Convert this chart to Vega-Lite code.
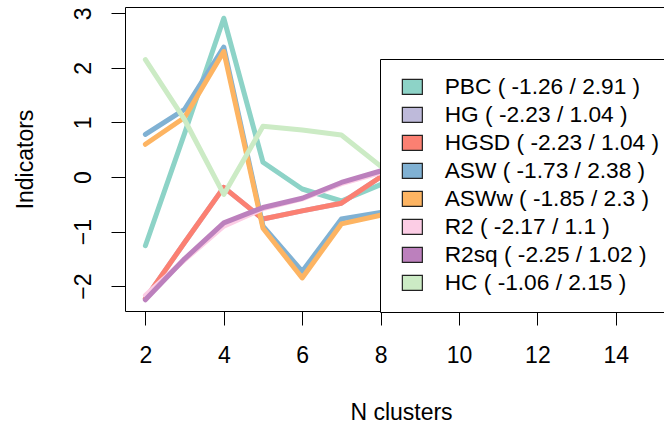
{
  "$schema": "https://vega.github.io/schema/vega-lite/v6.json",
  "autosize": {"type": "none"},
  "padding": {"left": 125, "top": 7, "right": 0, "bottom": 113},
  "width": 539,
  "height": 304,
  "background": "white",
  "config": {
    "font": "Liberation Sans",
    "view": {"stroke": "black", "strokeWidth": 1},
    "axis": {"grid": false, "domain": false, "tickColor": "black", "tickWidth": 1, "tickSize": 14, "labelFontSize": 23, "labelColor": "black", "titleFontSize": 23, "titleFontWeight": "normal", "titleColor": "black", "labelFont": "Liberation Sans", "titleFont": "Liberation Sans"},
    "legend": {"orient": "none", "legendX": 255, "legendY": 52, "padding": 16.5, "fillColor": "white", "strokeColor": "black",
      "rowPadding": 4, "labelFontSize": 22.7, "labelFont": "Liberation Sans", "labelColor": "black", "labelOffset": 21, "labelLimit": 400,
      "symbolType": "M-1,-0.75H1V0.75H-1Z", "symbolSize": 400, "symbolOffset": 4.5, "symbolStrokeWidth": 1.2, "symbolOpacity": 1}
  },
  "data": {"values": [
    {"x": 2, "y": -1.26, "s": "PBC ( -1.26 / 2.91 )"},
    {"x": 3, "y": 0.80, "s": "PBC ( -1.26 / 2.91 )"},
    {"x": 4, "y": 2.91, "s": "PBC ( -1.26 / 2.91 )"},
    {"x": 5, "y": 0.27, "s": "PBC ( -1.26 / 2.91 )"},
    {"x": 6, "y": -0.22, "s": "PBC ( -1.26 / 2.91 )"},
    {"x": 7, "y": -0.44, "s": "PBC ( -1.26 / 2.91 )"},
    {"x": 8, "y": -0.14, "s": "PBC ( -1.26 / 2.91 )"},
    {"x": 2, "y": -2.23, "s": "HG ( -2.23 / 1.04 )"},
    {"x": 3, "y": -1.2, "s": "HG ( -2.23 / 1.04 )"},
    {"x": 4, "y": -0.19, "s": "HG ( -2.23 / 1.04 )"},
    {"x": 5, "y": -0.77, "s": "HG ( -2.23 / 1.04 )"},
    {"x": 6, "y": -0.62, "s": "HG ( -2.23 / 1.04 )"},
    {"x": 7, "y": -0.48, "s": "HG ( -2.23 / 1.04 )"},
    {"x": 8, "y": 0.0, "s": "HG ( -2.23 / 1.04 )"},
    {"x": 2, "y": -2.23, "s": "HGSD ( -2.23 / 1.04 )"},
    {"x": 3, "y": -1.2, "s": "HGSD ( -2.23 / 1.04 )"},
    {"x": 4, "y": -0.19, "s": "HGSD ( -2.23 / 1.04 )"},
    {"x": 5, "y": -0.77, "s": "HGSD ( -2.23 / 1.04 )"},
    {"x": 6, "y": -0.62, "s": "HGSD ( -2.23 / 1.04 )"},
    {"x": 7, "y": -0.48, "s": "HGSD ( -2.23 / 1.04 )"},
    {"x": 8, "y": 0.0, "s": "HGSD ( -2.23 / 1.04 )"},
    {"x": 2, "y": 0.78, "s": "ASW ( -1.73 / 2.38 )"},
    {"x": 3, "y": 1.24, "s": "ASW ( -1.73 / 2.38 )"},
    {"x": 4, "y": 2.38, "s": "ASW ( -1.73 / 2.38 )"},
    {"x": 5, "y": -0.9, "s": "ASW ( -1.73 / 2.38 )"},
    {"x": 6, "y": -1.73, "s": "ASW ( -1.73 / 2.38 )"},
    {"x": 7, "y": -0.77, "s": "ASW ( -1.73 / 2.38 )"},
    {"x": 8, "y": -0.65, "s": "ASW ( -1.73 / 2.38 )"},
    {"x": 2, "y": 0.6, "s": "ASWw ( -1.85 / 2.3 )"},
    {"x": 3, "y": 1.09, "s": "ASWw ( -1.85 / 2.3 )"},
    {"x": 4, "y": 2.3, "s": "ASWw ( -1.85 / 2.3 )"},
    {"x": 5, "y": -0.94, "s": "ASWw ( -1.85 / 2.3 )"},
    {"x": 6, "y": -1.85, "s": "ASWw ( -1.85 / 2.3 )"},
    {"x": 7, "y": -0.86, "s": "ASWw ( -1.85 / 2.3 )"},
    {"x": 8, "y": -0.7, "s": "ASWw ( -1.85 / 2.3 )"},
    {"x": 2, "y": -2.17, "s": "R2 ( -2.17 / 1.1 )"},
    {"x": 3, "y": -1.52, "s": "R2 ( -2.17 / 1.1 )"},
    {"x": 4, "y": -0.9, "s": "R2 ( -2.17 / 1.1 )"},
    {"x": 5, "y": -0.58, "s": "R2 ( -2.17 / 1.1 )"},
    {"x": 6, "y": -0.4, "s": "R2 ( -2.17 / 1.1 )"},
    {"x": 7, "y": -0.12, "s": "R2 ( -2.17 / 1.1 )"},
    {"x": 8, "y": 0.08, "s": "R2 ( -2.17 / 1.1 )"},
    {"x": 2, "y": -2.25, "s": "R2sq ( -2.25 / 1.02 )"},
    {"x": 3, "y": -1.5, "s": "R2sq ( -2.25 / 1.02 )"},
    {"x": 4, "y": -0.84, "s": "R2sq ( -2.25 / 1.02 )"},
    {"x": 5, "y": -0.56, "s": "R2sq ( -2.25 / 1.02 )"},
    {"x": 6, "y": -0.39, "s": "R2sq ( -2.25 / 1.02 )"},
    {"x": 7, "y": -0.1, "s": "R2sq ( -2.25 / 1.02 )"},
    {"x": 8, "y": 0.11, "s": "R2sq ( -2.25 / 1.02 )"},
    {"x": 2, "y": 2.15, "s": "HC ( -1.06 / 2.15 )"},
    {"x": 3, "y": 1.05, "s": "HC ( -1.06 / 2.15 )"},
    {"x": 4, "y": -0.32, "s": "HC ( -1.06 / 2.15 )"},
    {"x": 5, "y": 0.93, "s": "HC ( -1.06 / 2.15 )"},
    {"x": 6, "y": 0.86, "s": "HC ( -1.06 / 2.15 )"},
    {"x": 7, "y": 0.77, "s": "HC ( -1.06 / 2.15 )"},
    {"x": 8, "y": 0.2, "s": "HC ( -1.06 / 2.15 )"}
  ]},
  "encoding": {
    "x": {"field": "x", "type": "quantitative", "scale": {"domain": [1.48, 15.23], "nice": false, "zero": false},
      "axis": {"values": [2, 4, 6, 8, 10, 12, 14], "title": "N clusters", "labelBaseline": "alphabetic", "labelPadding": 37, "titleBaseline": "alphabetic", "titleAnchor": "start", "titleAlign": "center", "titleX": 276, "titleY": 108}},
    "y": {"field": "y", "type": "quantitative", "scale": {"domain": [-2.456, 3.116], "nice": false, "zero": false},
      "axis": {"values": [-2, -1, 0, 1, 2, 3], "title": "Indicators", "labelAngle": -90, "labelAlign": "center", "labelBaseline": "alphabetic", "labelPadding": 21, "titleAngle": -90, "titleBaseline": "alphabetic", "titleAlign": "center", "titleX": -93, "titleY": 152}}
  },
  "layer": [
    {
      "mark": {"type": "square", "filled": true, "size": 2, "strokeWidth": 1, "opacity": 1, "clip": true},
      "encoding": {
        "fill": {"field": "s", "type": "nominal",
          "scale": {"domain": ["PBC ( -1.26 / 2.91 )", "HG ( -2.23 / 1.04 )", "HGSD ( -2.23 / 1.04 )", "ASW ( -1.73 / 2.38 )", "ASWw ( -1.85 / 2.3 )", "R2 ( -2.17 / 1.1 )", "R2sq ( -2.25 / 1.02 )", "HC ( -1.06 / 2.15 )"],
            "range": ["#8DD3C7", "#BEBADA", "#FB8072", "#80B1D3", "#FDB462", "#FCCDE5", "#BC80BD", "#CCEBC5"]},
          "legend": {"title": null}
        },
        "stroke": {"field": "s", "type": "nominal",
          "scale": {"domain": ["PBC ( -1.26 / 2.91 )", "HG ( -2.23 / 1.04 )", "HGSD ( -2.23 / 1.04 )", "ASW ( -1.73 / 2.38 )", "ASWw ( -1.85 / 2.3 )", "R2 ( -2.17 / 1.1 )", "R2sq ( -2.25 / 1.02 )", "HC ( -1.06 / 2.15 )"],
            "range": ["#222222", "#222222", "#222222", "#222222", "#222222", "#222222", "#222222", "#222222"]},
          "legend": {"title": null}
        }
      }
    },
    {
      "mark": {"type": "line", "strokeWidth": 5, "strokeCap": "round", "strokeJoin": "round", "clip": true},
      "encoding": {
        "color": {"field": "s", "type": "nominal", "legend": null,
          "scale": {"domain": ["PBC ( -1.26 / 2.91 )", "HG ( -2.23 / 1.04 )", "HGSD ( -2.23 / 1.04 )", "ASW ( -1.73 / 2.38 )", "ASWw ( -1.85 / 2.3 )", "R2 ( -2.17 / 1.1 )", "R2sq ( -2.25 / 1.02 )", "HC ( -1.06 / 2.15 )"],
            "range": ["#8DD3C7", "#BEBADA", "#FB8072", "#80B1D3", "#FDB462", "#FCCDE5", "#BC80BD", "#CCEBC5"]}}
      }
    }
  ]
}
